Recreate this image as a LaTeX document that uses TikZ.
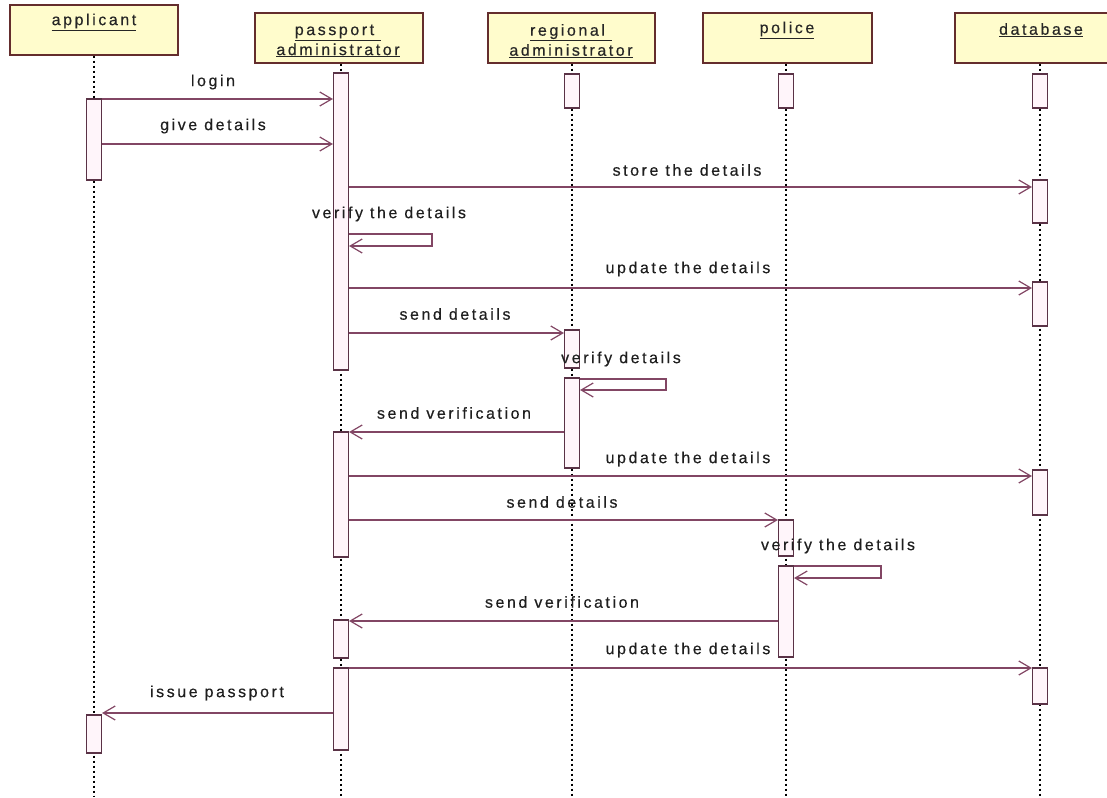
\documentclass[tikz,border=0pt]{standalone}
\usepackage{fontspec}
\setmainfont{Liberation Sans}[LetterSpace=16,FakeBold=0.4]
\usetikzlibrary{arrows.meta}
\definecolor{hdrfill}{RGB}{255,252,204}
\definecolor{hdrdraw}{RGB}{100,45,45}
\definecolor{msgc}{RGB}{130,70,100}
\definecolor{actdraw}{RGB}{90,50,70}
\definecolor{actfill}{RGB}{255,245,250}
\begin{document}
\begin{tikzpicture}[x=1pt,y=-1pt,
  hdr/.style={draw=hdrdraw, line width=1.2pt, fill=hdrfill, rectangle, minimum height=50pt, inner sep=0pt},
  hdrtxt/.style={font=\fontsize{16}{20}\selectfont, align=center, inner sep=0pt, text=black!85},
  act/.style={draw=actdraw, line width=1.1pt, fill=actfill, minimum width=15pt, inner sep=0pt},
  life/.style={black, line width=1.3pt, dash pattern=on 2.5pt off 2.5pt},
  msg/.style={draw=msgc, line width=1.3pt, -{Straight Barb[length=12pt,width=14pt,line width=1.2pt]}},
  lbl/.style={font=\fontsize{16}{18}\selectfont, inner sep=0pt, text=black!88}]
\useasboundingbox (0,0) rectangle (1107,797);
% headers
\node[hdr, minimum width=168pt] (app) at (94,30) {};
\node[hdr, minimum width=168pt] (pas) at (339,38) {};
\node[hdr, minimum width=167pt] (reg) at (571.5,38) {};
\node[hdr, minimum width=169pt] (pol) at (787.5,38) {};
\node[hdr, minimum width=170pt] (dbh) at (1040,38) {};
\node[hdrtxt] (appT) at (94,22) {\underline{applicant}};
\node[hdrtxt] (pasT) at (338,41) {\underline{passport }\\\underline{administrator}};
\node[hdrtxt] (regT) at (571,41) {\underline{regional }\\\underline{administrator}};
\node[hdrtxt] (polT) at (787,30) {\underline{police}};
\node[hdrtxt] (dbT) at (1041,30) {\underline{database}};
% lifeline x positions
\coordinate (bot) at (0,797);
\path (94,0) coordinate (xa) (341,0) coordinate (xp) (572,0) coordinate (xr)
      (786,0) coordinate (xo) (1040,0) coordinate (xd);
% lifelines
\draw[life] (xa |- app.south) -- (xa |- bot);
\draw[life] (xp |- pas.south) -- (xp |- bot);
\draw[life] (xr |- reg.south) -- (xr |- bot);
\draw[life] (xo |- pol.south) -- (xo |- bot);
\draw[life] (xd |- dbh.south) -- (xd |- bot);
% activations
\node[act, minimum height=81pt] (ap1) at (94,139.5) {};
\node[act, minimum height=38pt] (ap2) at (94,734) {};
\node[act, minimum height=297pt] (pa1) at (341,221.5) {};
\node[act, minimum height=125pt] (pa2) at (341,494.5) {};
\node[act, minimum height=38pt] (pa3) at (341,639) {};
\node[act, minimum height=82pt] (pa4) at (341,709) {};
\node[act, minimum height=34pt] (ra1) at (572,91) {};
\node[act, minimum height=38pt] (ra2) at (572,349) {};
\node[act, minimum height=90pt] (ra3) at (572,423) {};
\node[act, minimum height=34pt] (po1) at (786,91) {};
\node[act, minimum height=36pt] (po2) at (786,538) {};
\node[act, minimum height=91pt] (po3) at (786,611.5) {};
\node[act, minimum height=34pt] (db1) at (1040,91) {};
\node[act, minimum height=43pt] (db2) at (1040,201.5) {};
\node[act, minimum height=44pt] (db3) at (1040,304) {};
\node[act, minimum height=45pt] (db4) at (1040,492.5) {};
\node[act, minimum height=36pt] (db5) at (1040,686) {};
% messages
\draw[msg] (ap1.east |- 0,99) -- (pa1.west |- 0,99);
\node[lbl] (l1) at (213,82) {login};
\draw[msg] (ap1.east |- 0,144) -- (pa1.west |- 0,144);
\node[lbl] (l2) at (213,126) {give details};
\draw[msg] (pa1.east |- 0,187) -- (db2.west |- 0,187);
\node[lbl] (l3) at (687,170) {store the details};
\draw[msg] (pa1.east |- 0,234) -- (432,234) -- (432,246) -- (pa1.east |- 0,246);
\node[lbl] (l4) at (389,214) {verify the details};
\draw[msg] (pa1.east |- 0,288) -- (db3.west |- 0,288);
\node[lbl] (l5) at (688,269) {update the details};
\draw[msg] (pa1.east |- 0,333) -- (ra2.west |- 0,333);
\node[lbl] (l6) at (455,314) {send details};
\draw[msg] (ra3.east |- 0,379) -- (666,379) -- (666,390) -- (ra3.east |- 0,390);
\node[lbl] (l7) at (621,359) {verify details};
\draw[msg] (ra3.west |- 0,432) -- (pa2.east |- 0,432);
\node[lbl] (l8) at (454,413) {send verification};
\draw[msg] (pa2.east |- 0,476) -- (db4.west |- 0,476);
\node[lbl] (l9) at (688,459) {update the details};
\draw[msg] (pa2.east |- 0,520) -- (po2.west |- 0,520);
\node[lbl] (l10) at (562,502) {send details};
\draw[msg] (po3.east |- 0,566) -- (881,566) -- (881,578) -- (po3.east |- 0,578);
\node[lbl] (l11) at (838,546) {verify the details};
\draw[msg] (po3.west |- 0,621) -- (pa3.east |- 0,621);
\node[lbl] (l12) at (562,602) {send verification};
\draw[msg] (pa4.east |- 0,668) -- (db5.west |- 0,668);
\node[lbl] (l13) at (688,650) {update the details};
\draw[msg] (pa4.west |- 0,713) -- (ap2.east |- 0,713);
\node[lbl] (l14) at (217,693) {issue passport};
\end{tikzpicture}
\end{document}
